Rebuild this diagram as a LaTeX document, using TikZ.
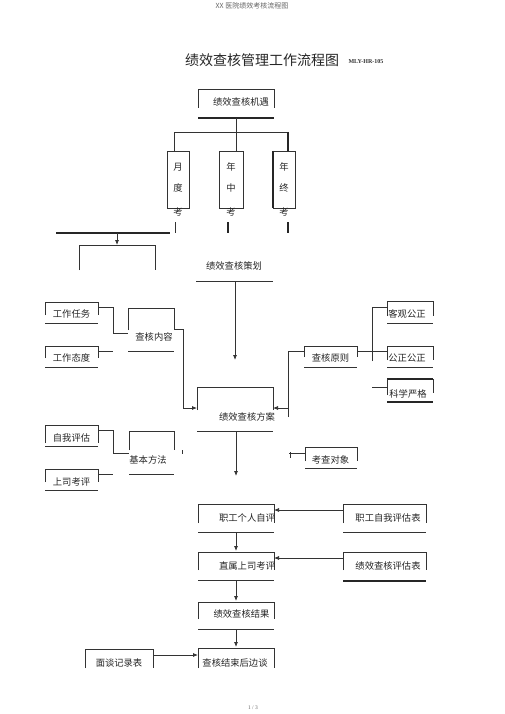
\documentclass[tikz,border=0pt]{standalone}
\usepackage{fontspec}
\setmainfont{Liberation Serif}
\newfontfamily\cjk{Noto Sans CJK SC}
\usetikzlibrary{arrows.meta}
\tikzset{
  ln/.style={draw=black!80, line width=0.75pt},
  thk/.style={draw=black!85, line width=1.2pt},
  arr/.style={ln,-{Latex[length=5pt,width=4pt]}},
  txt/.style={inner sep=0pt, font=\cjk\fontsize{9.3}{11}\selectfont, text=black!85},
}
\newcommand\openbox[5]{%
  \draw[ln] (#1,#4) -- (#1,#3) -- (#2,#3) -- (#2,#4);
  \draw[ln] (#1,#5) -- (#2,#5);}
\newcommand\openboxnb[4]{%
  \draw[ln] (#1,#4) -- (#1,#3) -- (#2,#3) -- (#2,#4);}
\begin{document}
\begin{tikzpicture}[x=1pt,y=-1pt]
\path[use as bounding box, fill=white] (0,0) rectangle (505,714);
% header and title
\node[inner sep=0pt, font=\cjk\fontsize{7}{8}\selectfont, text=black!60] (hdr) at (252,6) {XX 医院绩效考核流程图};
\node[inner sep=0pt, font=\cjk\fontsize{14}{16}\selectfont, text=black!85] (title) at (262,60) {绩效查核管理工作流程图};
\node[inner sep=0pt, font=\bfseries\fontsize{6}{7}\selectfont, text=black!80] (code) at (366,61.5) {MLY-HR-105};
\node[inner sep=0pt, font=\fontsize{5.5}{6}\selectfont, text=black!60] (page) at (253,708) {1 / 3};

% top box
\draw[ln] (198,108) -- (198,89) -- (274,89) -- (274,108);
\draw[thk] (198,118) -- (274,118);
\node[txt] (jiyu) at (241,102) {绩效查核机遇};

% three vertical boxes
\draw[ln] (167,151) rectangle (189,208);
\draw[ln] (219,151) rectangle (243,208);
\draw[ln] (273,151) rectangle (295,208);
\draw[thk] (273,151) -- (273,208);
\node[txt] (y1) at (178,167) {月};
\node[txt] (y2) at (178,188) {度};
\node[txt] (y3) at (178,212) {考};
\node[txt] (z1) at (231,167) {年};
\node[txt] (z2) at (231,188) {中};
\node[txt] (z3) at (231,212) {考};
\node[txt] (w1) at (284,167) {年};
\node[txt] (w2) at (284,188) {终};
\node[txt] (w3) at (284,212) {考};
\coordinate (jb) at (236,118);
\coordinate (jm) at (236,132);
\draw[ln] (jb) -- (236,151);
\draw[ln] (174,151) -- (174,132) -- (288,132);
\draw[thk] (288,132) -- (288,151);
% ticks
\draw[ln] (175,222) -- (175,233);
\draw[thk] (228,222) -- (228,233);
\draw[thk] (288,222) -- (288,233);
% left horizontal and bracket
\draw[thk] (56,233) -- (170,233);
\coordinate (la) at (117,233);
\coordinate (lb) at (117,245);
\draw[arr] (la) -- (lb);
\draw[ln] (79,270) -- (79,245) -- (155,245) -- (155,270);

% strategy
\node[txt] (cehua) at (234,266) {绩效查核策划};
\draw[ln] (196,281) -- (273,281);
\coordinate (cb) at (235,281);
\coordinate (ct) at (235,360);
\draw[arr] (cb) -- (ct);

% left group 1
\openbox{45}{98}{302}{315}{323}
\node[txt] (renwu) at (71.5,314) {工作任务};
\openbox{45}{98}{346}{358}{367}
\node[txt] (taidu) at (71.5,358) {工作态度};
\openbox{128}{174}{308}{330}{351}
\node[txt] (neirong) at (154,337) {查核内容};
\draw[ln] (98,307) -- (113,307) -- (113,333) -- (128,333);
\draw[ln] (98,351) -- (113,351);
\coordinate (fa-l) at (197,408);
\draw[arr] (174,329) -- (183,329) -- (183,408) -- (fa-l);

% plan box
\openbox{197}{273}{387}{410}{431}
\node[txt] (fangan) at (247,417) {绩效查核方案};
\coordinate (fa-r) at (273,408);
\draw[arr] (288,408) -- (fa-r);
\draw[ln] (288,417) -- (288,351) -- (304,351);
\coordinate (fa-b) at (236,431);
\coordinate (fa-d) at (236,476);
\draw[arr] (fa-b) -- (fa-d);

% principles
\openbox{304}{357}{346}{357}{367}
\node[txt] (yuanze) at (330.5,358) {查核原则};
\draw[ln] (357,351) -- (387,351);
\draw[ln] (372,361) -- (372,307) -- (387,307);
\draw[ln] (372,387) -- (387,387);
\openbox{387}{433}{301}{316}{323}
\node[txt] (keguan) at (407,314) {客观公正};
\openbox{387}{433}{346}{360}{367}
\node[txt] (gongzheng) at (407,358) {公正公正};
\draw[thk] (387,379) -- (433,379);
\draw[ln] (387,395) -- (387,379);
\draw[ln] (433,379) -- (433,393);
\draw[thk] (387,402) -- (433,402);
\node[txt] (kexue) at (408,394) {科学严格};

% object
\openbox{305}{357}{447}{461}{468}
\node[txt] (duixiang) at (330.5,460) {考查对象};
\draw[ln] (289,453) -- (305,453);
\draw[ln] (290,452) -- (290,458);

% left group 2
\openbox{45}{98}{425}{443}{446}
\node[txt] (ziwo) at (71.5,438) {自我评估};
\openbox{45}{98}{469}{482}{490}
\node[txt] (shangsi) at (71.5,482) {上司考评};
\openbox{129}{174}{431}{450}{474}
\node[txt] (fangfa) at (148,460) {基本方法};
\draw[ln] (98,430) -- (113,430) -- (113,453) -- (129,453);
\draw[ln] (98,474) -- (113,474);
\draw[ln] (182,450) -- (182,454);

% lower chain
\openbox{198}{274}{504}{523}{532}
\node[txt] (geren) at (247,518) {职工个人自评};
\openbox{343}{426}{504}{523}{532}
\node[txt] (zwbiao) at (388,518) {职工自我评估表};
\draw[arr] (343,510) -- (274,510);
\draw[arr] (236,532) -- (236,551);

\openbox{198}{274}{552}{570}{580}
\node[txt] (zhishu) at (247,566) {直属上司考评};
\draw[ln] (343,570) -- (343,552) -- (426,552) -- (426,570);
\draw[thk] (343,581) -- (426,581);
\node[txt] (pgbiao) at (388,566) {绩效查核评估表};
\draw[arr] (343,558) -- (274,558);
\draw[arr] (236,580) -- (236,601);

\openbox{198}{274}{602}{619}{629}
\node[txt] (jieguo) at (241.5,614) {绩效查核结果};
\draw[arr] (236,629) -- (236,647);

\openboxnb{198}{274}{648}{668}
\node[txt] (biantan) at (235,663) {查核结束后边谈};
\openboxnb{85}{153}{649}{668}
\node[txt] (jilu) at (119,663) {面谈记录表};
\draw[arr] (153,655) -- (198,655);
\end{tikzpicture}
\end{document}
